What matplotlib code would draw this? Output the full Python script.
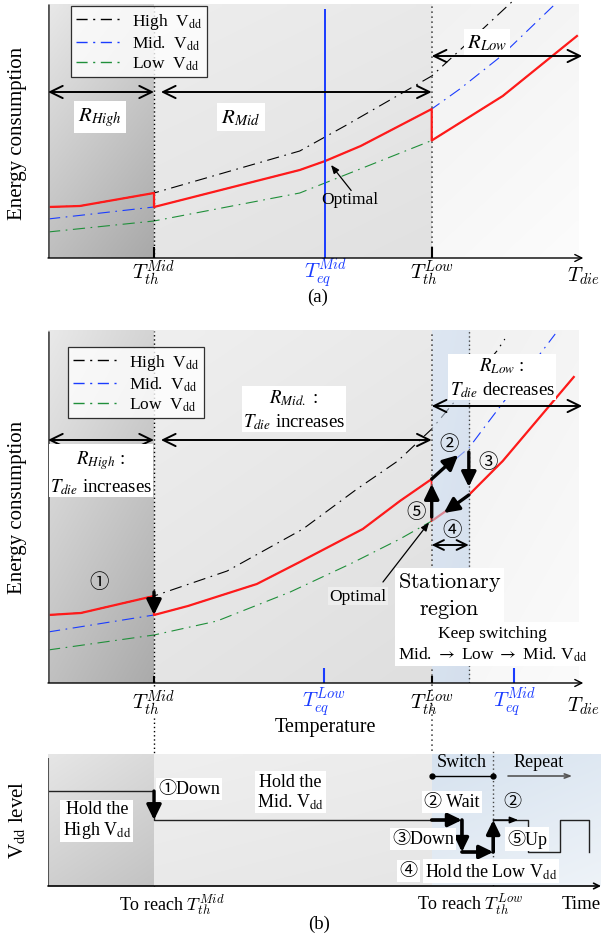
import numpy as np
import matplotlib.pyplot as plt
from matplotlib.colors import to_rgb
from matplotlib.lines import Line2D

plt.rcParams['font.family'] = ['Liberation Serif', 'Noto Sans CJK JP', 'DejaVu Sans']
plt.rcParams['mathtext.fontset'] = 'stix'

# temperature marks (0 = left axis, 100 = right end of the shaded area)
t_th_mid = 20.0
t_th_low = 72.4
t_eq_mid_a = 52.3
t_eq_low_b = 52.0
t_eq_mid_b = 88.0
t_stat_end = 79.4
t_end_a = 99.8
t_end_b = 99.2

# (a) energy vs. die temperature
a_high_t = [0, 6, 20, 47.5, 56, 72.4, 80, 87.5]
a_high_e = [20.4, 20.8, 26.0, 42.8, 52.8, 72.8, 87.6, 102.4]
a_mid_t = [0, 20, 47.5, 52.3, 59, 72.4, 77.7, 85.3, 95.7]
a_mid_e = [15.6, 20.4, 35.2, 38.8, 44.8, 59.6, 67.6, 80.4, 101.6]
a_low_t = [0, 20, 47.5, 72.4, 85.8, 99.8]
a_low_e = [10.4, 14.8, 26.0, 47.0, 64.8, 88.8]

# (b) energy vs. die temperature
b_high_t = [0, 6.2, 20, 33.8, 48.1, 58.3, 66.0, 72.4, 84.7, 86.2]
b_high_e = [27.2, 28.0, 34.8, 44.8, 61.6, 77.6, 88.8, 101.6, 132.8, 137.6]
b_mid_t = [0, 20, 26.4, 39.4, 47.5, 59.4, 66.4, 72.4, 79.4, 82.8, 95.7]
b_mid_e = [20.4, 27.2, 30.8, 39.6, 48.4, 61.6, 72.8, 81.6, 94.0, 103.6, 139.6]
b_low_t = [0, 20, 31.9, 45.7, 57.0, 66.4, 72.4, 79.4, 85.8, 99.2]
b_low_e = [13.2, 19.2, 24.8, 36.4, 47.6, 57.6, 64.8, 75.2, 88.8, 122.4]

# Vdd level over time
vdd_high, vdd_mid, vdd_low = 95, 66, 34
t_wait_end = 78.1
t_switch_end = 84.0
step_t = [0, 20, t_wait_end, t_switch_end, 90.6, 96.6, 102.1]
step_v = [vdd_high, vdd_mid, vdd_low, vdd_mid, vdd_low, vdd_mid, vdd_low]

legend_labels = ['High  V$_{\\mathrm{dd}}$', 'Mid.  V$_{\\mathrm{dd}}$', 'Low  V$_{\\mathrm{dd}}$']
curve_colors = ['black', '#1a3cff', '#1f8f3a']
RED = '#ff1a1a'
DASH = (0, (11, 5, 1.5, 5))

W, H = 601, 937
fig = plt.figure(figsize=(W / 100, H / 100), dpi=100)


def px_axes(left, top, right, bottom):
    ax = fig.add_axes([left / W, 1 - bottom / H, (right - left) / W, (bottom - top) / H])
    ax.set_axis_off()
    return ax


def shade(ax, x0, x1, y0, y1, c_tl, c_br, z=0, alpha=1.0):
    u = np.linspace(0, 1, 48)
    w = (0.35 * u[None, :] + 0.65 * u[:, None])[..., None]
    img = np.array(to_rgb(c_tl)) * (1 - w) + np.array(to_rgb(c_br)) * w
    ax.imshow(img, extent=(x0, x1, y0, y1), origin='upper', aspect='auto',
              zorder=z, alpha=alpha, interpolation='bilinear')


def arrow(ax, x0, y0, x1, y1, style='-|>', lw=1.0, color='black', z=6, ms=10):
    ax.annotate('', xy=(x1, y1), xytext=(x0, y0), annotation_clip=False,
                arrowprops=dict(arrowstyle=style, lw=lw, color=color, shrinkA=0,
                                shrinkB=0, mutation_scale=ms), zorder=z)


def optimal(parts):
    xs, ys = [], []
    for ts, es, lo, hi in parts:
        ts = np.asarray(ts, float)
        es = np.asarray(es, float)
        m = (ts > lo) & (ts < hi)
        x = np.r_[lo, ts[m], hi]
        xs.append(x)
        ys.append(np.interp(x, ts, es))
    return np.concatenate(xs), np.concatenate(ys)


def legend(ax, anchor):
    handles = [Line2D([], [], color=c, lw=1.0, ls=(0, (8, 4, 1.5, 4))) for c in curve_colors]
    lg = ax.legend(handles, legend_labels, loc='upper left', bbox_to_anchor=anchor,
                   fontsize=12.5, frameon=True, fancybox=False, edgecolor='black',
                   handlelength=2.6, labelspacing=0.15, borderpad=0.3, handletextpad=0.6,
                   borderaxespad=0)
    lg.get_frame().set_linewidth(0.9)
    lg.set_zorder(8)


DBL = '<->,head_length=0.45,head_width=0.22'
THICK = '-|>,head_length=0.45,head_width=0.22'
tlab = dict(math_fontfamily='cm', fontsize=15, ha='center', va='center')

# ---------------- panel (a) ----------------
ax = px_axes(48, 0, 601, 259)
xmax = (601 - 48) / 5.3
shade(ax, 0, t_th_mid, 0, 101.6, '#e8e8e8', '#a9a9a9')
shade(ax, t_th_mid, t_th_low, 0, 101.6, '#ededed', '#e1e1e1')
shade(ax, t_th_low, 100, 0, 101.6, '#f1f1f1', '#fcfcfc')
for ts, es, c in zip([a_high_t, a_mid_t, a_low_t], [a_high_e, a_mid_e, a_low_e], curve_colors):
    ax.plot(ts, es, color=c, lw=0.8, ls=DASH, zorder=2)
ox, oy = optimal([(a_high_t, a_high_e, 0, t_th_mid), (a_mid_t, a_mid_e, t_th_mid, t_th_low),
                  (a_low_t, a_low_e, t_th_low, t_end_a)])
ax.plot(ox, oy, color=RED, lw=1.6, zorder=3)
ax.vlines(t_eq_mid_a, -1, 99.6, color='#1a3cff', lw=1.4, zorder=3)
ax.vlines(t_th_mid, 0, 101.6, color='black', lw=1.0, ls=(0, (1, 2)), zorder=2)
ax.vlines(t_th_low, 0, 101.6, color='#555555', lw=1.2, ls=(0, (1, 2)), zorder=2)
ax.vlines(0, 0, 101.6, color='#555555', lw=2.0, zorder=4)
ax.vlines([t_th_mid, t_th_low], -2.4, 4.4, color='black', lw=1.5, zorder=4)
arrow(ax, 0, 0, 101, 0, style='->,head_length=0.5,head_width=0.25', lw=1.0)
arrow(ax, 0, 66.4, t_th_mid, 66.4, style=DBL, lw=1.4, ms=20)
arrow(ax, t_th_mid + 1.3, 66.4, t_th_low, 66.4, style=DBL, lw=1.4, ms=20)
arrow(ax, t_th_low, 80.8, 100.8, 80.8, style=DBL, lw=1.4, ms=20)
ax.text(9.8, 56.4, '$R_{High}$', fontsize=15, ha='center', va='center',
        bbox=dict(fc='white', ec='none', pad=3), zorder=7)
ax.text(36.4, 56.4, '$R_{Mid}$', fontsize=15, ha='center', va='center',
        bbox=dict(fc='white', ec='none', pad=3), zorder=7)
ax.text(82.8, 86.4, '$R_{Low}$', fontsize=15, ha='center', va='center',
        bbox=dict(fc='white', ec='none', pad=2), zorder=7)
ax.text(57.0, 23.6, 'Optimal', fontsize=12.5, ha='center', va='center', zorder=7)
arrow(ax, 57.2, 27.0, 53.4, 37.2, style='-|>,head_length=0.5,head_width=0.2', lw=0.9, ms=10)
ax.text(t_th_mid, -5.8, '$T_{th}^{Mid}$', **tlab)
ax.text(t_eq_mid_a, -5.8, '$T_{eq}^{Mid}$', color='#1a3cff', **tlab)
ax.text(t_th_low, -5.8, '$T_{th}^{Low}$', **tlab)
ax.text(104.2, -7.0, '$T_{die}$', math_fontfamily='cm', fontsize=15, ha='right', va='center')
ax.text(50.9, -15.4, '(a)', fontsize=13.5, ha='center', va='center')
legend(ax, ((71 - 48) / 553, (259 - 7) / 259))
ax.set_xlim(0, xmax)
ax.set_ylim(0, 103.6)

# ---------------- panel (b) ----------------
bx = px_axes(48, 325, 601, 684)
shade(bx, 0, t_th_mid, 0, 140.8, '#e9e9e9', '#ababab')
shade(bx, t_th_mid, t_th_low, 0, 140.8, '#efefef', '#dfdfdf')
shade(bx, t_stat_end, 100, 0, 140.8, '#f1f1f1', '#fbfbfb')
shade(bx, t_th_low, t_stat_end, 0, 140.8, '#c8d7ea', '#b8cae1', z=3.5, alpha=0.6)
for ts, es, c in zip([b_high_t, b_mid_t, b_low_t], [b_high_e, b_mid_e, b_low_e], curve_colors):
    bx.plot(ts, es, color=c, lw=0.8, ls=DASH, zorder=2)
ox, oy = optimal([(b_high_t, b_high_e, 0, t_th_mid), (b_mid_t, b_mid_e, t_th_mid, t_th_low),
                  (b_low_t, b_low_e, t_th_low, t_end_b)])
bx.plot(ox, oy, color=RED, lw=1.6, zorder=3)
bx.vlines(t_th_mid, -81.2, 140.8, color='black', lw=1.0, ls=(0, (1, 2)), zorder=2, clip_on=False)
bx.vlines(t_th_low, -81.2, 140.8, color='#555555', lw=1.2, ls=(0, (1, 2)), zorder=4, clip_on=False)
bx.vlines(t_stat_end, 0, 140.8, color='#444444', lw=1.0, ls=(0, (1, 2)), zorder=4)
bx.vlines(0, 0, 140.8, color='#555555', lw=2.0, zorder=4)
bx.vlines([t_th_mid, t_th_low], -5, 3, color='black', lw=1.5, zorder=4)
bx.vlines([t_eq_low_b, t_eq_mid_b], -2, 6, color='#1a3cff', lw=1.5, zorder=4)
arrow(bx, 0, 0, 101, 0, style='->,head_length=0.5,head_width=0.25', lw=1.0)
arrow(bx, 0, 97.2, t_th_mid, 97.2, style=DBL, lw=1.4, ms=20)
arrow(bx, t_th_mid + 1.3, 97.2, t_th_low, 97.2, style=DBL, lw=1.4, ms=20)
arrow(bx, t_th_low, 110.8, 100.8, 110.8, style=DBL, lw=1.4, ms=20)
rbox = dict(fontsize=13.5, ha='center', va='center', multialignment='center', linespacing=1.3,
            bbox=dict(fc='white', ec='none', pad=1), zorder=7)
bx.text(10.0, 84.4, '$R_{High}$ :\n$T_{die}$ increases', **rbox)
bx.text(46.4, 109.6, '$R_{Mid.}$ :\n$T_{die}$ increases', **rbox)
bx.text(85.7, 122.4, '$R_{Low}$ :\n$T_{die}$ decreases', **rbox)
# state transitions
arrow(bx, t_th_mid, 36.4, t_th_mid, 27.2, style=THICK, lw=2.4, ms=20)
arrow(bx, t_th_low, 81.6, 77.4, 91.2, style=THICK, lw=2.4, ms=20)
arrow(bx, t_stat_end, 92.4, t_stat_end, 78.4, style=THICK, lw=2.4, ms=20)
arrow(bx, t_stat_end, 75.2, 74.7, 68.0, style=THICK, lw=2.4, ms=20)
arrow(bx, t_th_low, 66.4, t_th_low, 79.6, style=THICK, lw=2.4, ms=20)
circ = dict(fontsize=14, ha='center', va='center', zorder=7)
bx.text(9.6, 40.4, '①', **circ)
bx.text(75.7, 95.6, '②', **circ)
bx.text(83.0, 88.4, '③', **circ)
bx.text(76.2, 61.2, '④', **circ)
bx.text(69.4, 68.4, '⑤', **circ)
arrow(bx, t_th_low, 55.2, t_stat_end, 55.2, style=DBL, lw=1.4, ms=16)
bx.text(75.7, 35.2, '$\\mathrm{Stationary}$\n$\\mathrm{region}$', math_fontfamily='cm',
        fontsize=16, ha='center', va='center', multialignment='center', linespacing=1.2,
        bbox=dict(fc='white', ec='none', pad=2), zorder=7)
bx.text(83.8, 15.6, 'Keep switching\nMid. $\\rightarrow$ Low $\\rightarrow$ Mid. V$_{\\mathrm{dd}}$',
        fontsize=12.5, ha='center', va='center', multialignment='center', linespacing=1.3,
        bbox=dict(fc='white', ec='none', pad=2), zorder=7)
bx.text(58.5, 34.8, 'Optimal', fontsize=12.5, ha='center', va='center',
        bbox=dict(fc='#eeeeee', ec='none', pad=1), zorder=7)
arrow(bx, 63.2, 40.4, 71.9, 64.2, style='-|>,head_length=0.5,head_width=0.2', lw=0.9, ms=10)
bx.text(t_th_mid, -7.6, '$T_{th}^{Mid}$', bbox=dict(fc='white', ec='none', pad=0), **tlab)
bx.text(t_eq_low_b, -7.6, '$T_{eq}^{Low}$', color='#1a3cff', **tlab)
bx.text(t_th_low, -7.6, '$T_{th}^{Low}$', bbox=dict(fc='white', ec='none', pad=0), **tlab)
bx.text(t_eq_mid_b, -7.6, '$T_{eq}^{Mid}$', color='#1a3cff', **tlab)
bx.text(104.2, -9.0, '$T_{die}$', math_fontfamily='cm', fontsize=15, ha='right', va='center')
bx.text(52.3, -17.4, 'Temperature', fontsize=14.5, ha='center', va='center', zorder=7)
legend(bx, ((68 - 48) / 553, (684 - 348) / 359))
bx.set_xlim(0, xmax)
bx.set_ylim(0, 143.6)

# ---------------- Vdd level vs time ----------------
cx = px_axes(48, 750, 601, 887)
shade(cx, 0, t_th_mid, 0, 132, '#e6e6e6', '#c3c3c3')
shade(cx, t_th_mid, t_th_low, 0, 132, '#efefef', '#e6e6e6')
shade(cx, t_th_low, xmax, 0, 132, '#d6e2ef', '#eef3f8')
cx.step(step_t, step_v, where='post', color='#222222', lw=1.0, zorder=3)
cx.vlines(t_switch_end, 0, 135, color='#444444', lw=1.0, ls=(0, (1, 2)), zorder=2)
cx.vlines(0, 0, 128, color='#555555', lw=1.5, zorder=4)
arrow(cx, 0, 0, xmax, 0, style='->,head_length=0.4,head_width=0.2', lw=1.2)
arrow(cx, t_th_mid, vdd_high, t_th_mid, vdd_mid, style=THICK, lw=2.4, ms=20)
arrow(cx, t_th_low, vdd_mid, t_wait_end, vdd_mid, style=THICK, lw=2.6, ms=18)
arrow(cx, t_wait_end, vdd_mid, t_wait_end, vdd_low, style=THICK, lw=2.6, ms=18)
arrow(cx, t_wait_end, vdd_low, t_switch_end, vdd_low, style=THICK, lw=2.6, ms=18)
arrow(cx, t_switch_end, vdd_low, t_switch_end, vdd_mid, style=THICK, lw=2.6, ms=18)
arrow(cx, t_switch_end, vdd_mid, 88.7, vdd_mid, style='-|>,head_length=0.5,head_width=0.2',
      lw=1.0, ms=10)
cx.plot([t_th_low, t_switch_end], [110, 110], color='black', lw=1.0, marker='o', ms=3.5, zorder=4)
arrow(cx, 86.8, 110, 98.9, 110, style='->,head_length=0.4,head_width=0.15', lw=1.2,
      color='#555555', ms=10)
tb = dict(fontsize=13, ha='center', va='center', multialignment='center', linespacing=1.15,
          bbox=dict(fc='white', ec='none', pad=1.5), zorder=7)
cx.text(9.2, 66, 'Hold the\nHigh V$_{\\mathrm{dd}}$', **tb)
cx.text(26.6, 97, '①Down', **tb)
cx.text(45.7, 94, 'Hold the\nMid. V$_{\\mathrm{dd}}$', **tb)
cx.text(76.2, 84, '② Wait', **tb)
cx.text(70.8, 47, '③Down', **tb)
cx.text(90.4, 47, '⑤Up', **tb)
cx.text(83.6, 15, 'Hold the Low V$_{\\mathrm{dd}}$', **tb)
cx.text(68.0, 15, '④', fontsize=13, ha='center', va='center', zorder=8,
        bbox=dict(fc='white', ec='none', pad=1.5))
cx.text(87.7, 84, '②', fontsize=13, ha='center', va='center', zorder=7)
cx.text(78.1, 124, 'Switch', fontsize=13, ha='center', va='center', zorder=7)
cx.text(92.5, 124, 'Repeat', fontsize=13, ha='center', va='center', zorder=7)
cx.text(23.4, -18, 'To reach $T_{th}^{Mid}$', fontsize=13, ha='center', va='center',
        math_fontfamily='cm')
cx.text(79.6, -18, 'To reach $T_{th}^{Low}$', fontsize=13, ha='center', va='center',
        math_fontfamily='cm')
cx.text(104.2, -18, 'Time', fontsize=13.5, ha='right', va='center')
cx.text(51.1, -37, '(b)', fontsize=13.5, ha='center', va='center')
cx.set_xlim(0, xmax)
cx.set_ylim(0, 137)

# y labels
fig.text(18 / W, 1 - 133 / H, 'Energy consumption', rotation=90, fontsize=15,
         ha='center', va='center')
fig.text(18 / W, 1 - 507 / H, 'Energy consumption', rotation=90, fontsize=15,
         ha='center', va='center')
fig.text(18 / W, 1 - 820 / H, 'V$_{\\mathrm{dd}}$ level', rotation=90, fontsize=15,
         ha='center', va='center')

fig.savefig('out.png', dpi=100)
